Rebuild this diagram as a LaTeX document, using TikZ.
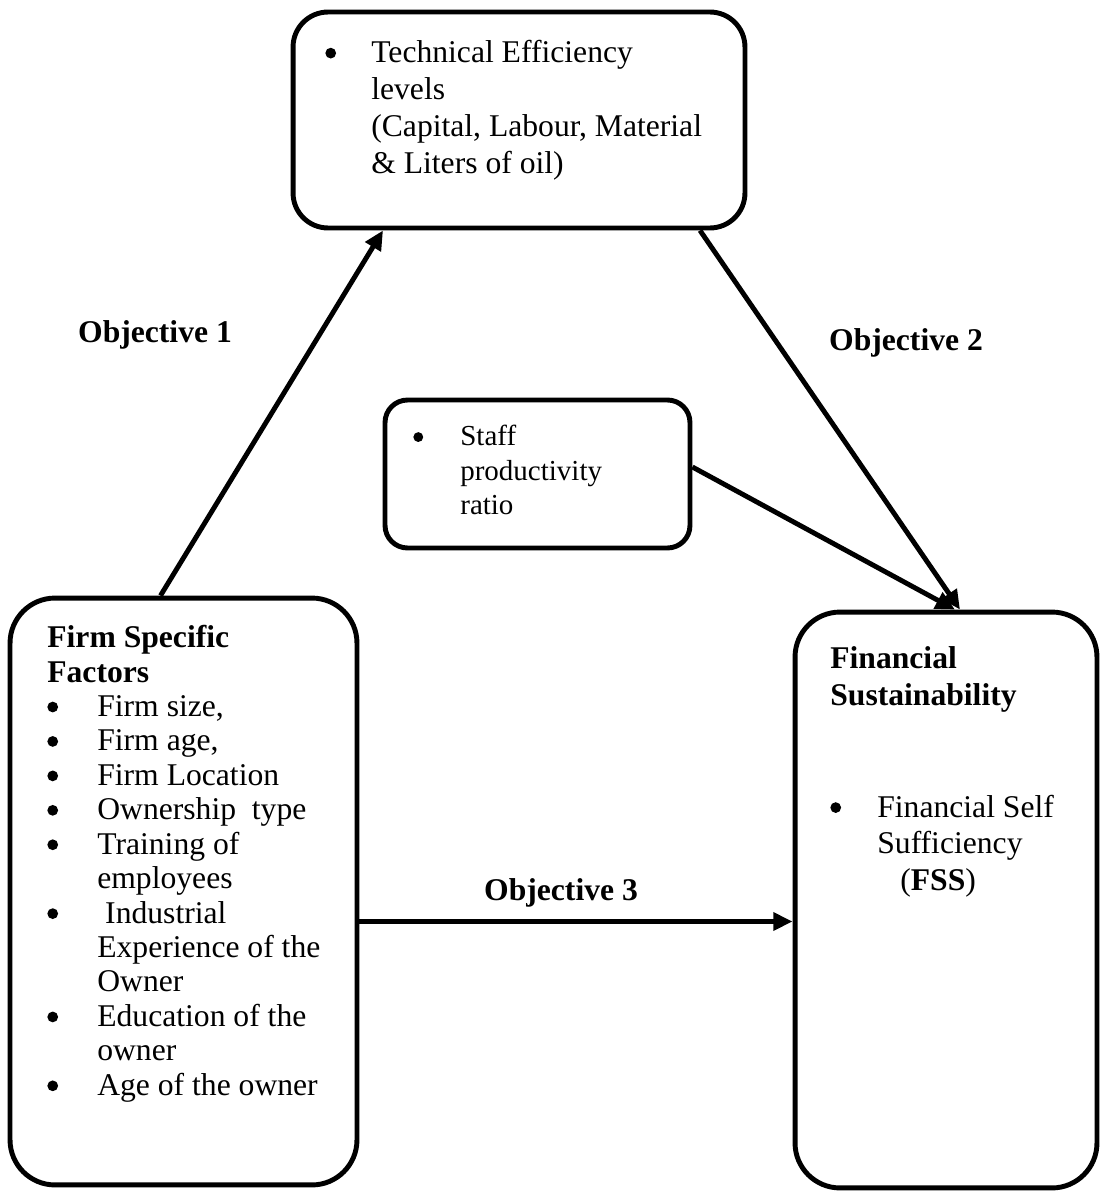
\documentclass[tikz,border=0pt]{standalone}
\usepackage{fontspec}
\setmainfont{Liberation Serif}
\usepackage{tikz}
\usetikzlibrary{
	arrows.meta,
	positioning,
	calc
}
\newcommand{\bigbul}{\tikz[baseline=-0.3em]\fill (0,0) circle (0.17em);}
\newcommand{\bul}{\makebox[1cm][l]{\bigbul}}
\newcommand{\ind}{\hspace*{1cm}}

\begin{document}
\begin{tikzpicture}[
				x=0.02cm, y=-0.02cm,
				framebox/.style={
					rectangle, draw, line width=2.8pt, rounded corners=0.7cm,
					inner sep=0pt
				},
				boxtext/.style={
					anchor=north west, inner sep=0pt, align=left,
					font=\fontsize{18}{21}\selectfont
				},
				objlabel/.style={
					inner sep=0pt, font=\fontsize{18}{21}\selectfont\bfseries
				},
				arrow/.style={-{Triangle[length=11pt,width=10pt]}, line width=2.8pt, black}
				]
				\useasboundingbox (0,0) rectangle (1100,1193);
				
				% Technical efficiency
				\node[framebox, minimum width=9.04cm, minimum height=4.32cm] (tech) at (519,120) {};
				\node[boxtext] (techtext) at (325,40) {\makebox[0.92cm][l]{\bigbul}Technical Efficiency\\ \hspace*{0.92cm}levels\\ \hspace*{0.92cm}(Capital, Labour, Material\\ \hspace*{0.92cm}\& Liters of oil)};
				
				% Staff productivity
				\node[framebox, rounded corners=0.45cm, minimum width=6.1cm, minimum height=2.96cm] (staff) at (537.5,474) {};
				\node[boxtext, font=\fontsize{16.5}{19.5}\selectfont] (stafftext) at (413,425) {\makebox[0.94cm][l]{\bigbul}Staff\\ \hspace*{0.94cm}productivity\\ \hspace*{0.94cm}ratio};
				
				% Firm specific factors
				\node[framebox, rounded corners=0.9cm, minimum width=6.94cm, minimum height=11.74cm] (firm) at (183.5,891.5) {};
				\node[boxtext, font=\fontsize{18}{19.6}\selectfont] (firmtext) at (47,625) {\textbf{Firm Specific}\\ \textbf{Factors}\\
					\bul Firm size,\\ \bul Firm age,\\ \bul Firm Location\\ \bul Ownership\ \ type\\
					\bul Training of\\ \ind employees\\ \bul\ Industrial\\ \ind Experience of the\\ \ind Owner\\
					\bul Education of the\\ \ind owner\\ \bul Age of the owner};
				
				% Financial sustainability
				\node[framebox, rounded corners=0.9cm, minimum width=6.04cm, minimum height=11.52cm] (fin) at (946,900) {};
				\node[boxtext] (fintext) at (830,646) {\textbf{Financial}\\ \textbf{Sustainability}\\[1.5cm]
					\makebox[0.94cm][l]{\bigbul}Financial Self\\ \hspace*{0.94cm}Sufficiency\\ \hspace*{1.4cm}(\textbf{FSS})};
				
				% objectives
				\node[objlabel] (obj1) at (155,335) {Objective 1};
				\node[objlabel] (obj2) at (906,343) {Objective 2};
				\node[objlabel] (obj3) at (561,893) {Objective 3};
				
				% arrows between boxes
				\coordinate (o3start) at ($(firm.east)+(0,30)$);
				\draw[arrow] ($(firm.north)+(-23,0)$) -- ($(tech.south)+(-136,0)$);
				\draw[arrow] ($(tech.south)+(181,0)$) -- ($(fin.north)+(14,0)$);
				\draw[arrow] ($(staff.east)+(0,-7)$) -- ($(fin.north)+(9,0)$);
				\draw[arrow] (o3start) -- (o3start -| fin.west);
			\end{tikzpicture}
\end{document}
